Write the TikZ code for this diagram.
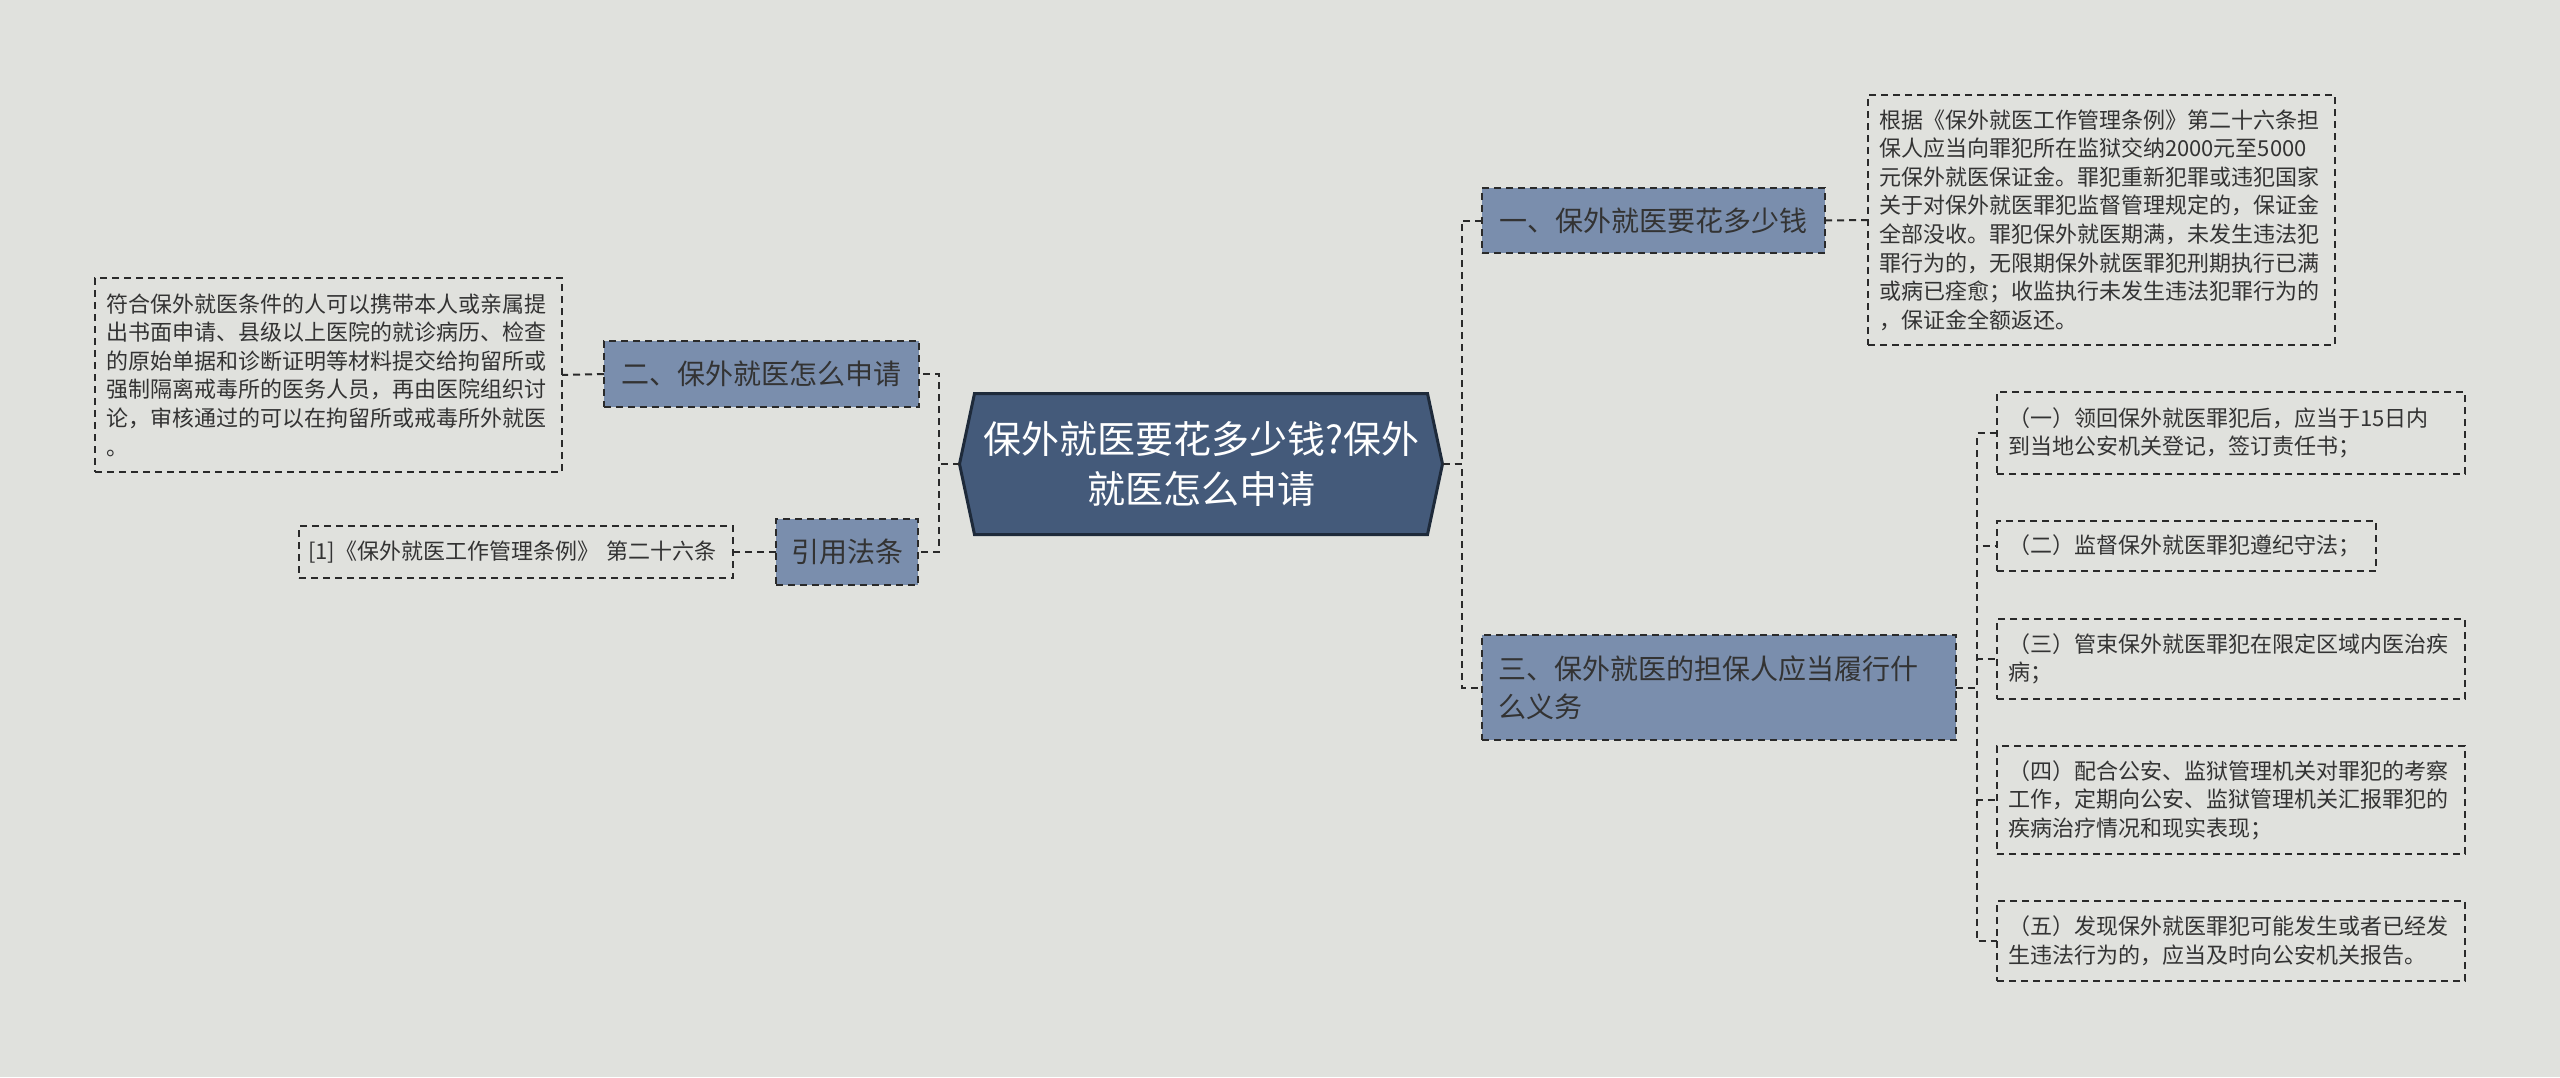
\documentclass[tikz,border=0pt]{standalone}
\usepackage{fontspec}
\setmainfont{Noto Sans CJK SC}
\usetikzlibrary{backgrounds}
\definecolor{bg}{HTML}{E0E1DD}
\definecolor{centerfill}{HTML}{445A7A}
\definecolor{centerline}{HTML}{1E2A3A}
\definecolor{branchfill}{HTML}{7A8EAD}
\definecolor{linec}{HTML}{2A2A2A}
\definecolor{textdark}{HTML}{333333}
\begin{document}
\begin{tikzpicture}[x=1pt,y=-1pt,
  every node/.style={inner sep=0pt, outer sep=0pt},
  link/.style={draw=linec, line width=2pt, dash pattern=on 7pt off 5pt},
  branch/.style={draw=linec, line width=2pt, dash pattern=on 7pt off 5pt, fill=branchfill, text=textdark, font=\fontsize{28}{38}\selectfont, anchor=north west, align=center},
  detail/.style={draw=linec, line width=1.6pt, dash pattern=on 7pt off 5pt, text=textdark, font=\fontsize{22}{28.6}\selectfont, anchor=north west, align=left, inner xsep=11pt},
]
\useasboundingbox (0,0) rectangle (2560,1077);

% central node
\node[minimum width=483pt, minimum height=141pt, text=white, font=\fontsize{38}{50}\selectfont, align=center] (c) at (1201,464) {保外就医要花多少钱?保外\\就医怎么申请};

% branches
\node[branch, minimum width=343pt, minimum height=65pt] (b1) at (1482,188) {一、保外就医要花多少钱};
\node[branch, minimum width=474pt, minimum height=105pt, align=left, text width=442pt, inner xsep=16pt] (b3) at (1482,635) {三、保外就医的担保人应当履行什\\么义务};
\node[branch, minimum width=315pt, minimum height=66pt] (b2) at (604,341) {二、保外就医怎么申请};
\node[branch, minimum width=142pt, minimum height=66pt] (b4) at (776,519) {引用法条};

% details
\node[detail, text width=445pt, minimum height=250pt] (d1) at (1868,95) {根据《保外就医工作管理条例》第二十六条担\\保人应当向罪犯所在监狱交纳2000元至5000\\元保外就医保证金。罪犯重新犯罪或违犯国家\\关于对保外就医罪犯监督管理规定的，保证金\\全部没收。罪犯保外就医期满，未发生违法犯\\罪行为的，无限期保外就医罪犯刑期执行已满\\或病已痊愈；收监执行未发生违法犯罪行为的\\，保证金全额返还。};
\node[detail, text width=445pt, minimum height=194pt] (d2) at (95,278) {符合保外就医条件的人可以携带本人或亲属提\\出书面申请、县级以上医院的就诊病历、检查\\的原始单据和诊断证明等材料提交给拘留所或\\强制隔离戒毒所的医务人员，再由医院组织讨\\论，审核通过的可以在拘留所或戒毒所外就医\\。};
\node[detail, text width=416pt, inner xsep=9pt, minimum height=52pt] (d4) at (299,526) {[1]《保外就医工作管理条例》 第二十六条};

\node[detail, text width=446pt, minimum height=82pt] (k1) at (1997,392) {（一）领回保外就医罪犯后，应当于15日内\\到当地公安机关登记，签订责任书；};
\node[detail, text width=357pt, minimum height=50pt] (k2) at (1997,521) {（二）监督保外就医罪犯遵纪守法；};
\node[detail, text width=446pt, minimum height=80pt] (k3) at (1997,619) {（三）管束保外就医罪犯在限定区域内医治疾\\病；};
\node[detail, text width=446pt, minimum height=108pt] (k4) at (1997,746) {（四）配合公安、监狱管理机关对罪犯的考察\\工作，定期向公安、监狱管理机关汇报罪犯的\\疾病治疗情况和现实表现；};
\node[detail, text width=446pt, minimum height=80pt] (k5) at (1997,901) {（五）发现保外就医罪犯可能发生或者已经发\\生违法行为的，应当及时向公安机关报告。};

\begin{scope}[on background layer]
  \fill[bg] (0,0) rectangle (2560,1077);
  \draw[fill=centerfill, draw=centerline, line width=3pt, line join=miter]
    (c.west) -- ([xshift=15pt]c.north west) -- ([xshift=-15pt]c.north east) -- (c.east)
    -- ([xshift=-15pt]c.south east) -- ([xshift=15pt]c.south west) -- cycle;
\end{scope}

% connectors
\draw[link] (c.east) -- ++(19,0) |- (b1.west);
\draw[link] (c.east) -- ++(19,0) |- (b3.west);
\draw[link] (c.west) -- ++(-21,0) |- (b2.east);
\draw[link] (c.west) -- ++(-21,0) |- (b4.east);
\draw[link] (b1.east) -- (d1.west);
\draw[link] (b2.west) -- (d2.east);
\draw[link] (b4.west) -- (d4.east);
\draw[link] (b3.east) -- ++(21,0) |- (k1.west);
\draw[link] (b3.east) -- ++(21,0) |- (k2.west);
\draw[link] (b3.east) -- ++(21,0) |- (k3.west);
\draw[link] (b3.east) -- ++(21,0) |- (k4.west);
\draw[link] (b3.east) -- ++(21,0) |- (k5.west);
\end{tikzpicture}
\end{document}
